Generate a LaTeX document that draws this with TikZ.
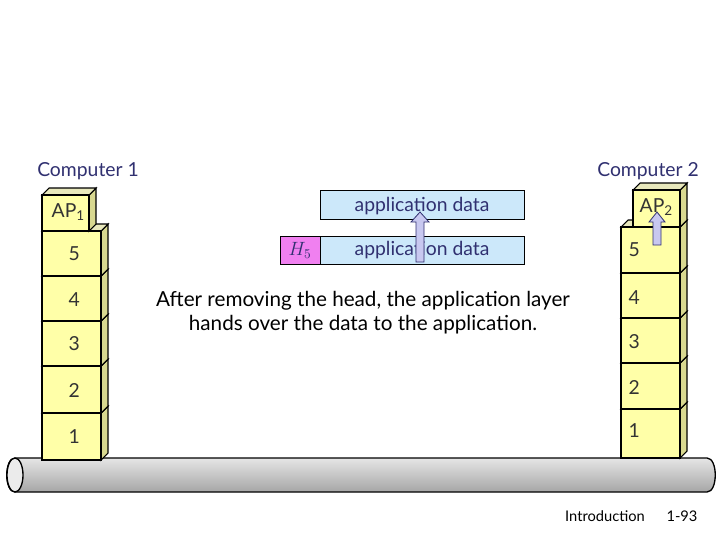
\documentclass[tikz,border=0pt]{standalone}
\usepackage{fontspec}
\setmainfont{Lato}
\usetikzlibrary{shapes.geometric,shapes.arrows}
\definecolor{ly}{HTML}{FFFFA8}
\definecolor{lyside}{HTML}{D8D890}
\definecolor{pk}{HTML}{CCE8FA}
\definecolor{hd}{HTML}{F080F0}
\definecolor{tb}{HTML}{303070}
\definecolor{ar}{HTML}{C8C8F0}
\tikzset{
 lay/.style={draw=black,fill=ly,line width=0.8pt},
 lt/.style={font=\fontsize{14.5}{16}\selectfont,text=black!80,anchor=west},
 pkt/.style={draw=black,fill=pk,line width=0.6pt},
 ptxt/.style={font=\fontsize{14.5}{16}\selectfont,text=tb},
 fat/.style={draw=tb,fill=ar,line width=0.6pt},
}
\newcommand{\layerbox}[5]{% x1 y1 x2 y2 depth
 \fill[lyside,draw=black,line width=0.8pt] (#3,#2)--++(#5,-#5)--(#3+#5,#4-#5)--(#3,#4)--cycle;
 \fill[lyside!60!white,draw=black,line width=0.8pt] (#1,#2)--++(#5,-#5)--(#3+#5,#2-#5)--(#3,#2)--cycle;
 \draw[lay] (#1,#2) rectangle (#3,#4);}
\begin{document}
\begin{tikzpicture}[x=0.75pt,y=-0.75pt]
\useasboundingbox (0,0) rectangle (720,540);
% cable
\shade[top color=white!90!black,bottom color=black!35,draw=black,line width=1pt]
 (15,458) -- (707,458) .. controls (718,458) and (718,492) .. (707,492) -- (15,492) .. controls (4,492) and (4,458) .. (15,458) -- cycle;
\draw[fill=white!92!black,line width=1pt] (15,475) ellipse[x radius=8,y radius=17];
% left stack
\layerbox{42}{413}{101}{460}{7}
\layerbox{42}{366}{101}{413}{7}
\layerbox{42}{321}{101}{366}{7}
\layerbox{42}{276}{101}{321}{7}
\layerbox{42}{231}{101}{276}{7}
\layerbox{42}{195}{89}{231}{7}
\node[lt] (l1) at (64,437) {1};
\node[lt] (l2) at (64,390) {2};
\node[lt] (l3) at (64,344) {3};
\node[lt] (l4) at (64,300) {4};
\node[lt] (l5) at (64,254) {5};
\node[lt] (ap1) at (47,212) {AP\textsubscript{1}};
% right stack
\layerbox{621}{409}{680}{458}{7}
\layerbox{621}{363}{680}{409}{7}
\layerbox{621}{318}{680}{363}{7}
\layerbox{621}{273}{680}{318}{7}
\layerbox{621}{227}{680}{273}{7}
\layerbox{633}{190}{680}{227}{7}
\node[lt] (r1) at (624,431) {1};
\node[lt] (r2) at (624,387) {2};
\node[lt] (r3) at (624,342) {3};
\node[lt] (r4) at (624,298) {4};
\node[lt] (r5) at (624,250) {5};
\node[lt] (ap2) at (635,207) {AP\textsubscript{2}};
\draw[fat] (653,245) -- (653,222) -- (649,222) -- (657,212) -- (665,222) -- (661,222) -- (661,245) -- cycle;
% computer labels
\node[ptxt] (c1) at (88,171) {Computer 1};
\node[ptxt] (c2) at (648,171) {Computer 2};
% packets
\draw[pkt] (320,190) rectangle (524,219);
\node[ptxt] (d1) at (422,206) {application data};
\draw[pkt] (320,236) rectangle (524,264);
\draw[pkt,fill=hd] (280,236) rectangle (320,264);
\node[ptxt] (h5) at (300,250) {$H_5$};
\node[ptxt] (d2) at (422,250) {application data};
\draw[fat] (416,262) -- (416,222) -- (411,222) -- (420,212) -- (429,222) -- (424,222) -- (424,262) -- cycle;
% text
\node[font=\fontsize{15.5}{18}\selectfont,align=center] (msg) at (363,313) {After removing the head, the application layer\\hands over the data to the application.};
\node[font=\fontsize{11}{12}\selectfont] (ft1) at (605,516) {Introduction};
\node[font=\fontsize{11}{12}\selectfont] (ft2) at (682,516) {1-93};
\end{tikzpicture}
\end{document}
